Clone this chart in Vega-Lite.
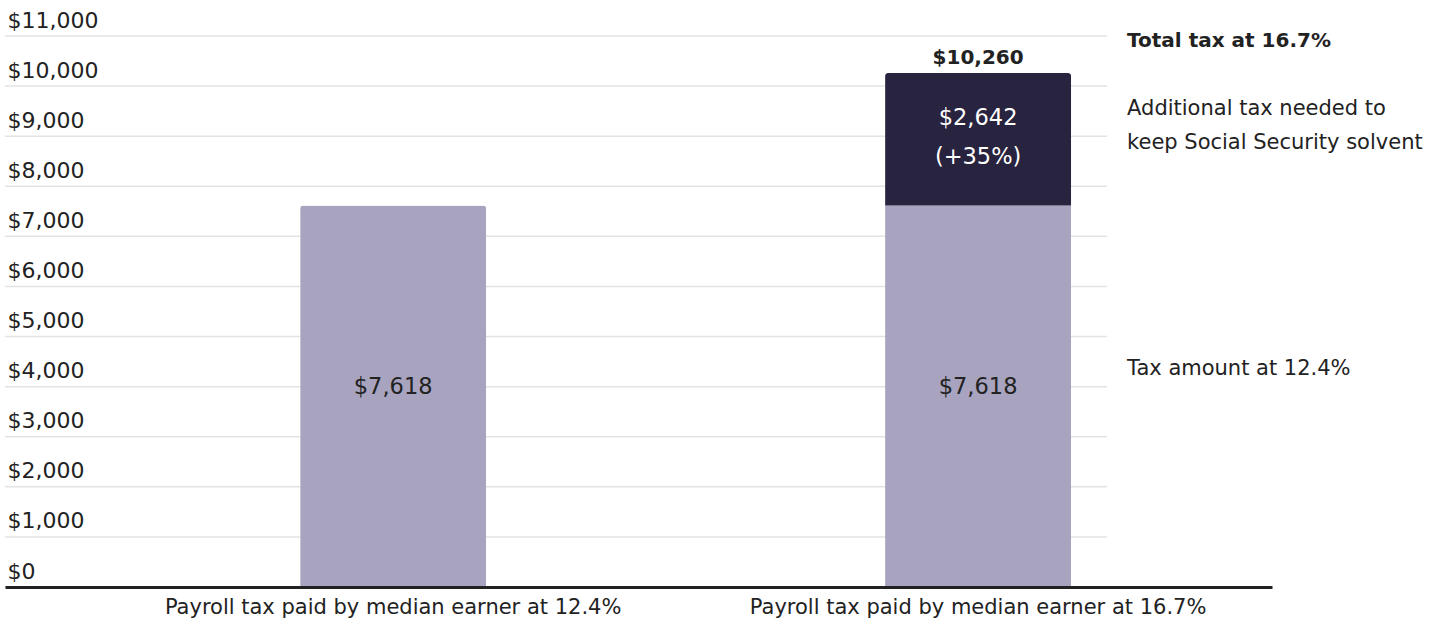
{
  "$schema": "https://vega.github.io/schema/vega-lite/v6.json",
  "width": 1267,
  "height": 551,
  "autosize": {"type": "none"},
  "padding": {"left": 5, "top": 36, "right": 165, "bottom": 32},
  "background": "white",
  "config": {"view": {"stroke": null}, "font": "DejaVu Sans"},
  "datasets": {
    "bars": [
      {"cat": "Payroll tax paid by median earner at 12.4%", "part": "Tax amount at 12.4%", "order": 1, "value": 7618, "label": "$7,618"},
      {"cat": "Payroll tax paid by median earner at 16.7%", "part": "Tax amount at 12.4%", "order": 1, "value": 7618, "label": "$7,618"},
      {"cat": "Payroll tax paid by median earner at 16.7%", "part": "Additional tax needed to keep Social Security solvent", "order": 2, "value": 2642, "label": ["$2,642", "(+35%)"]}
    ],
    "totals": [
      {"cat": "Payroll tax paid by median earner at 16.7%", "total": 10260, "label": "$10,260"}
    ],
    "grid": [
      {"v": 0}, {"v": 1000}, {"v": 2000}, {"v": 3000}, {"v": 4000}, {"v": 5000},
      {"v": 6000}, {"v": 7000}, {"v": 8000}, {"v": 9000}, {"v": 10000}, {"v": 11000}
    ]
  },
  "layer": [
    {
      "layer": [
        {
          "data": {"name": "grid"},
          "mark": {"type": "rule", "color": "#e3e3e3", "strokeWidth": 1.5},
          "encoding": {
            "y": {
              "field": "v", "type": "quantitative", "scale": {"domain": [0, 11000], "nice": false},
              "axis": {
                "title": null, "grid": false, "domain": false, "ticks": false, "tickSize": 0,
                "values": [0, 1000, 2000, 3000, 4000, 5000, 6000, 7000, 8000, 9000, 10000, 11000],
                "format": "$,d", "labelAlign": "left", "labelPadding": -2, "labelBaseline": "alphabetic",
                "labelOffset": -9, "labelFontSize": 22, "labelColor": "#222", "labelFlush": false, "labelOverlap": false, "labelBound": false
              }
            },
            "x": {"datum": 0, "type": "quantitative", "scale": {"domain": [0, 1]}, "axis": null},
            "x2": {"datum": 0.8698}
          }
        },
        {
          "data": {"values": [{"note": "Total tax at 16.7%"}]},
          "mark": {"type": "text", "align": "left", "baseline": "middle", "fontSize": 20, "fontWeight": "bold", "color": "#222"},
          "encoding": {
            "text": {"field": "note"},
            "x": {"datum": 0.8856, "type": "quantitative"},
            "y": {"datum": 10900, "type": "quantitative"}
          }
        },
        {
          "data": {"values": [{"note": ["Additional tax needed to", "keep Social Security solvent"]}]},
          "mark": {"type": "text", "align": "left", "baseline": "middle", "fontSize": 21, "lineHeight": 34, "color": "#222"},
          "encoding": {
            "text": {"field": "note"},
            "x": {"datum": 0.8856, "type": "quantitative"},
            "y": {"datum": 9540, "type": "quantitative"}
          }
        },
        {
          "data": {"values": [{"note": "Tax amount at 12.4%"}]},
          "mark": {"type": "text", "align": "left", "baseline": "middle", "fontSize": 21, "color": "#222"},
          "encoding": {
            "text": {"field": "note"},
            "x": {"datum": 0.8856, "type": "quantitative"},
            "y": {"datum": 4360, "type": "quantitative"}
          }
        }
      ]
    },
    {
      "layer": [
        {
          "data": {"name": "bars"},
          "mark": {"type": "bar", "cornerRadiusTopLeft": 3, "cornerRadiusTopRight": 3},
          "encoding": {
            "x": {
              "field": "cat", "type": "nominal", "sort": null,
              "scale": {"paddingInner": 0.682, "paddingOuter": 0.424, "align": 0.595},
              "axis": {"orient": "bottom", "zindex": 2, "title": null, "labelAngle": 0, "labelFontSize": 21, "labelLimit": 0, "labelColor": "#222", "domainColor": "#222", "domainWidth": 3, "ticks": false, "labelPadding": 9}
            },
            "y": {
              "field": "value", "type": "quantitative", "stack": "zero",
              "scale": {"domain": [0, 11000], "nice": false},
              "axis": {
                "title": null, "grid": false, "domain": false, "ticks": false, "tickSize": 0,
                "values": [0, 1000, 2000, 3000, 4000, 5000, 6000, 7000, 8000, 9000, 10000, 11000],
                "format": "$,d", "labelAlign": "left", "labelPadding": -2, "labelBaseline": "alphabetic",
                "labelOffset": -9, "labelFontSize": 22, "labelColor": "#222", "labelFlush": false, "labelOverlap": false, "labelBound": false
              }
            },
            "color": {
              "field": "part", "type": "nominal",
              "scale": {"domain": ["Tax amount at 12.4%", "Additional tax needed to keep Social Security solvent"], "range": ["#a8a4bf", "#28233e"]},
              "legend": null
            },
            "order": {"field": "order", "type": "quantitative"}
          }
        },
        {
          "data": {"name": "bars"},
          "transform": [
            {"stack": "value", "groupby": ["cat"], "sort": [{"field": "order"}], "as": ["v0", "v1"]},
            {"calculate": "(datum.v0 + datum.v1) / 2", "as": "mid"},
            {"filter": "datum.order == 1"}
          ],
          "mark": {"type": "text", "baseline": "middle", "fontSize": 22.5, "color": "#222", "dy": -9},
          "encoding": {
            "x": {"field": "cat", "type": "nominal", "sort": null},
            "y": {"field": "mid", "type": "quantitative"},
            "text": {"field": "label"}
          }
        },
        {
          "data": {"name": "bars"},
          "transform": [
            {"stack": "value", "groupby": ["cat"], "sort": [{"field": "order"}], "as": ["v0", "v1"]},
            {"calculate": "(datum.v0 + datum.v1) / 2", "as": "mid"},
            {"filter": "datum.order == 2"}
          ],
          "mark": {"type": "text", "baseline": "middle", "fontSize": 22.5, "lineHeight": 39, "color": "white", "dy": -21},
          "encoding": {
            "x": {"field": "cat", "type": "nominal", "sort": null},
            "y": {"field": "mid", "type": "quantitative"},
            "text": {"field": "label"}
          }
        },
        {
          "data": {"name": "totals"},
          "mark": {"type": "text", "baseline": "alphabetic", "fontSize": 20, "fontWeight": "bold", "color": "#222", "dy": -9},
          "encoding": {
            "x": {"field": "cat", "type": "nominal", "sort": null},
            "y": {"field": "total", "type": "quantitative"},
            "text": {"field": "label"}
          }
        }
      ]
    }
  ],
  "resolve": {"scale": {"x": "independent"}}
}
